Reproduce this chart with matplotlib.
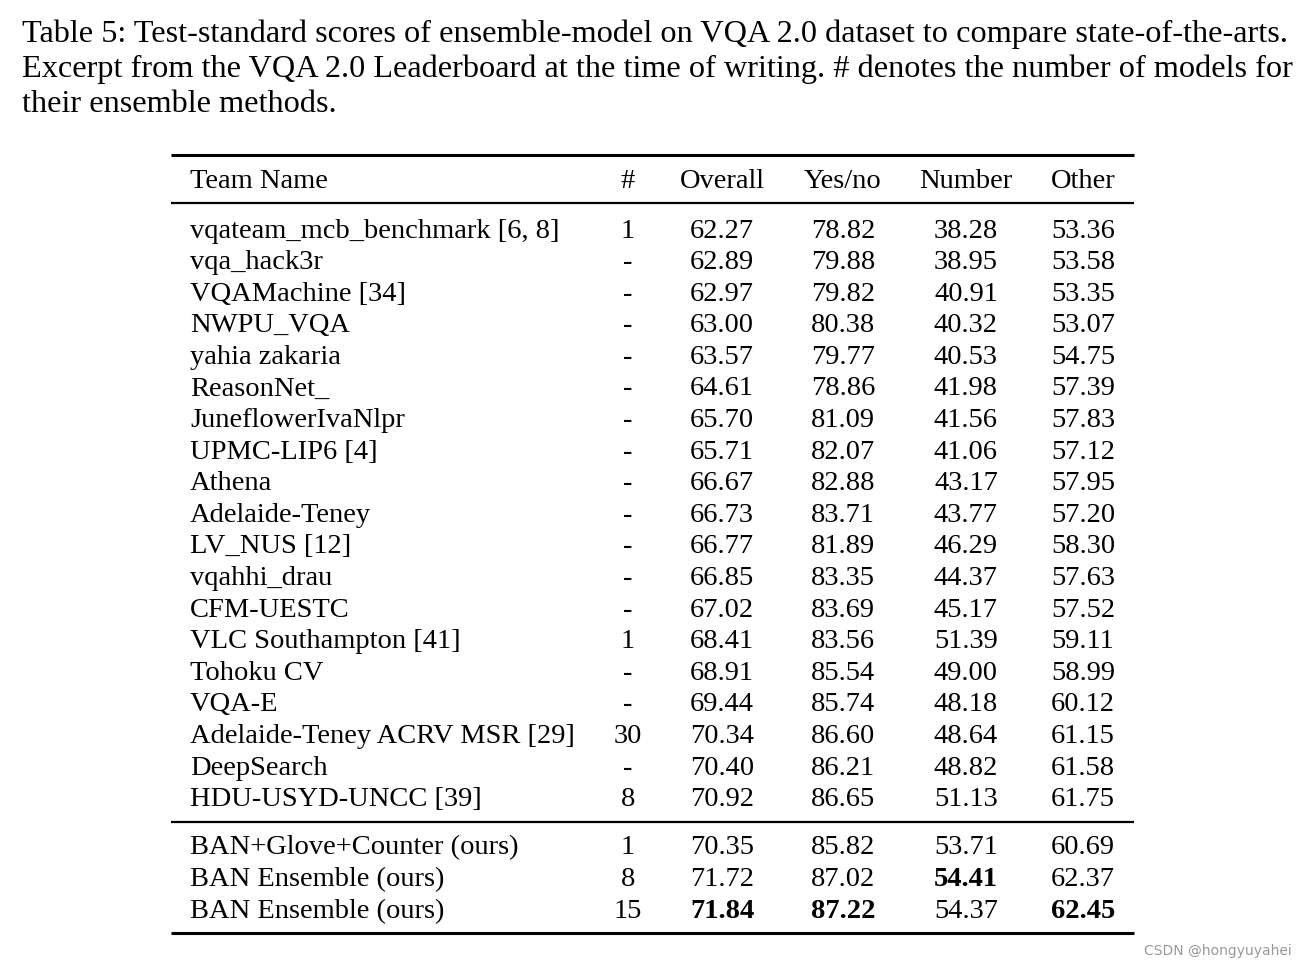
import matplotlib.pyplot as plt
import numpy as np

caption = [
    "Table 5: Test-standard scores of ensemble-model on VQA 2.0 dataset to compare state-of-the-arts.",
    "Excerpt from the VQA 2.0 Leaderboard at the time of writing. # denotes the number of models for",
    "their ensemble methods.",
]
headers = ["Team Name", "#", "Overall", "Yes/no", "Number", "Other"]

teams = ["vqateam_mcb_benchmark [6, 8]", "vqa_hack3r", "VQAMachine [34]", "NWPU_VQA",
         "yahia zakaria", "ReasonNet_", "JuneflowerIvaNlpr", "UPMC-LIP6 [4]", "Athena",
         "Adelaide-Teney", "LV_NUS [12]", "vqahhi_drau", "CFM-UESTC", "VLC Southampton [41]",
         "Tohoku CV", "VQA-E", "Adelaide-Teney ACRV MSR [29]", "DeepSearch", "HDU-USYD-UNCC [39]",
         "BAN+Glove+Counter (ours)", "BAN Ensemble (ours)", "BAN Ensemble (ours)"]
n_models = ["1", "-", "-", "-", "-", "-", "-", "-", "-", "-", "-", "-", "-", "1", "-", "-",
            "30", "-", "8", "1", "8", "15"]
overall = [62.27, 62.89, 62.97, 63.00, 63.57, 64.61, 65.70, 65.71, 66.67, 66.73, 66.77,
           66.85, 67.02, 68.41, 68.91, 69.44, 70.34, 70.40, 70.92, 70.35, 71.72, 71.84]
yesno = [78.82, 79.88, 79.82, 80.38, 79.77, 78.86, 81.09, 82.07, 82.88, 83.71, 81.89,
         83.35, 83.69, 83.56, 85.54, 85.74, 86.60, 86.21, 86.65, 85.82, 87.02, 87.22]
number = [38.28, 38.95, 40.91, 40.32, 40.53, 41.98, 41.56, 41.06, 43.17, 43.77, 46.29,
          44.37, 45.17, 51.39, 49.00, 48.18, 48.64, 48.82, 51.13, 53.71, 54.41, 54.37]
other = [53.36, 53.58, 53.35, 53.07, 54.75, 57.39, 57.83, 57.12, 57.95, 57.20, 58.30,
         57.63, 57.52, 59.11, 58.99, 60.12, 61.15, 61.58, 61.75, 60.69, 62.37, 62.45]
n_leaderboard = 19

fig = plt.figure(figsize=(13.06, 9.70), dpi=100)
ax = fig.add_axes([0, 0, 1, 1])
ax.set_xlim(0, 1306)
ax.set_ylim(970, 0)
ax.axis("off")

fam = ["Liberation Serif", "DejaVu Serif"]
fs = 20.5
cap_fs = 23.2

# caption
for i, line in enumerate(caption):
    ax.text(22, 34 + i * 35, line, fontsize=cap_fs, family=fam, va="center", ha="left")

# rules
x0, x1 = 171, 1134
ax.plot([x0, x1], [156, 156], color="black", lw=2.2, solid_capstyle="butt")
ax.plot([x0, x1], [204, 204], color="black", lw=1.6, solid_capstyle="butt")
ax.plot([x0, x1], [823, 823], color="black", lw=1.6, solid_capstyle="butt")
ax.plot([x0, x1], [934, 934], color="black", lw=2.2, solid_capstyle="butt")

col_x = [190, 628, 722, 843, 966, 1083]
ax.text(col_x[0], 181, headers[0], fontsize=fs, family=fam, va="center", ha="left")
for cx, h in zip(col_x[1:], headers[1:]):
    ax.text(cx, 181, h, fontsize=fs, family=fam, va="center", ha="center")

row_y = list(231 + 31.6 * np.arange(n_leaderboard)) + list(848 + 32 * np.arange(len(teams) - n_leaderboard))

cols = [overall, yesno, number, other]
best = [int(np.argmax(c)) for c in cols]

for r, y in enumerate(row_y):
    ax.text(col_x[0], y, teams[r], fontsize=fs, family=fam, va="center", ha="left")
    ax.text(col_x[1], y, n_models[r], fontsize=fs, family=fam, va="center", ha="center")
    for k, c in enumerate(cols):
        w = "bold" if best[k] == r else "normal"
        ax.text(col_x[k + 2], y, f"{c[r]:.2f}", fontsize=fs, family=fam, va="center",
                ha="center", fontweight=w)

ax.text(1292, 951, "CSDN @hongyuyahei", fontsize=10, family=["DejaVu Sans"], color="#999999",
        va="center", ha="right")

fig.savefig("out.png", dpi=100)
